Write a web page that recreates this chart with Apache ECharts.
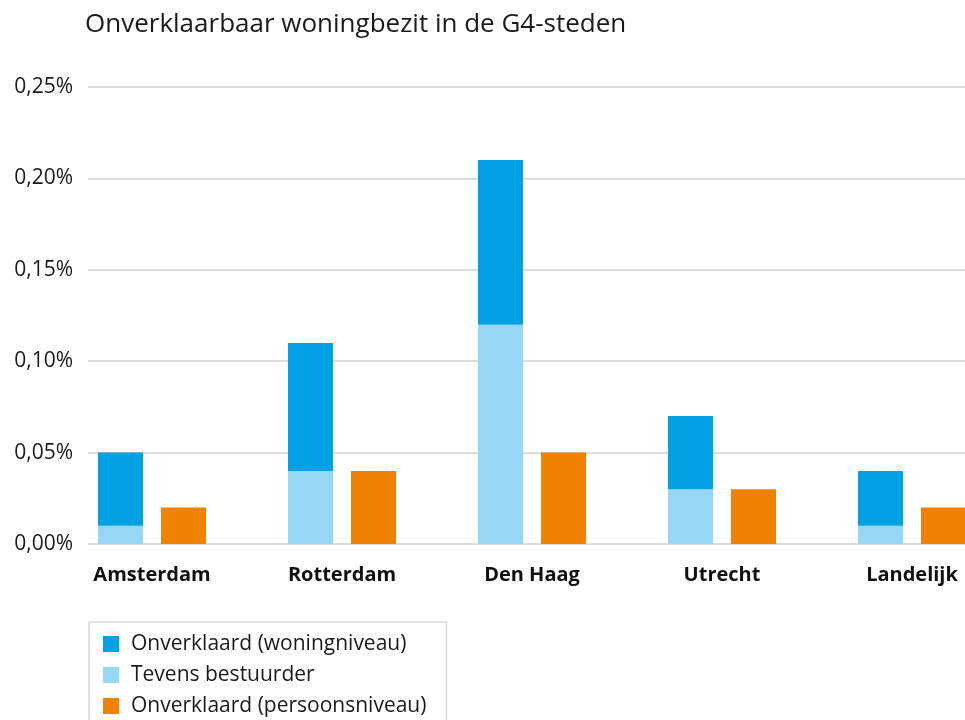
<!DOCTYPE html>
<html>
<head>
<meta charset="utf-8">
<script src="https://cdn.jsdelivr.net/npm/echarts@6/dist/echarts.min.js"></script>
<style>
html,body{margin:0;padding:0;background:#fff;}
#chart{width:965px;height:720px;}
</style>
</head>
<body>
<div id="chart"></div>
<script>
const titleText = 'Onverklaarbaar woningbezit in de G4-steden';
const categories = ['Amsterdam', 'Rotterdam', 'Den Haag', 'Utrecht', 'Landelijk'];
const seriesNames = ['Onverklaard (woningniveau)', 'Tevens bestuurder', 'Onverklaard (persoonsniveau)'];
// values in percent
const tevensBestuurder = [0.01, 0.04, 0.12, 0.03, 0.01];
const onverklaardWoningExtra = [0.04, 0.07, 0.09, 0.04, 0.03];
const onverklaardPersoon = [0.02, 0.04, 0.05, 0.03, 0.02];
const yMin = 0, yMax = 0.25, yStep = 0.05;

const FONT = 'Open Sans';
const chart = echarts.init(document.getElementById('chart'), null, {renderer: 'canvas'});
const fmt = v => v.toFixed(2).replace('.', ',') + '%';

chart.setOption({
  animation: false,
  backgroundColor: '#ffffff',
  textStyle: {fontFamily: FONT},
  title: {
    text: titleText,
    left: 80, top: 7,
    textStyle: {fontFamily: FONT, fontSize: 26, fontWeight: 'normal', color: '#1a1a1a'}
  },
  legend: {
    orient: 'vertical',
    left: 89, top: 622, height: 200,
    padding: [11, 20, 30, 14],
    borderColor: '#d9d9d9', borderWidth: 1.5,
    itemWidth: 16, itemHeight: 16, itemGap: 9,
    icon: 'rect',
    data: seriesNames,
    textStyle: {fontFamily: FONT, fontSize: 21, color: '#1a1a1a', lineHeight: 22, padding: [0, 0, 0, 7]}
  },
  grid: [
    {left: 88, right: 0, top: 87, bottom: 176, outerBoundsMode: 'none'},
    {left: 57, right: -42, top: 87, bottom: 176, outerBoundsMode: 'none'}
  ],
  xAxis: [
    {gridIndex: 0, type: 'category', data: categories, show: false},
    {gridIndex: 1, type: 'category', data: categories,
     axisLine: {show: false}, axisTick: {show: false},
     axisLabel: {fontFamily: FONT, fontSize: 20, fontWeight: 'bold', color: '#111', margin: 21}}
  ],
  yAxis: [
    {gridIndex: 0, type: 'value', min: yMin, max: yMax, interval: yStep,
     axisLine: {show: false}, axisTick: {show: false},
     axisLabel: {fontFamily: FONT, fontSize: 21, color: '#1a1a1a', margin: 15, formatter: fmt},
     splitLine: {lineStyle: {color: '#dcdcdc', width: 2}}},
    {gridIndex: 1, type: 'value', min: yMin, max: yMax, interval: yStep, show: false,
     splitLine: {show: false}}
  ],
  series: [
    {name: seriesNames[1], type: 'bar', xAxisIndex: 1, yAxisIndex: 1, stack: 'w',
     data: tevensBestuurder, barWidth: 45, barGap: '40%',
     itemStyle: {color: '#98d6f6'}},
    {name: seriesNames[0], type: 'bar', xAxisIndex: 1, yAxisIndex: 1, stack: 'w',
     data: onverklaardWoningExtra, barWidth: 45, barGap: '40%',
     itemStyle: {color: '#00a0e2'}},
    {name: seriesNames[2], type: 'bar', xAxisIndex: 1, yAxisIndex: 1,
     data: onverklaardPersoon, barWidth: 45, barGap: '40%',
     itemStyle: {color: '#ef8200'}}
  ]
});
</script>
</body>
</html>
